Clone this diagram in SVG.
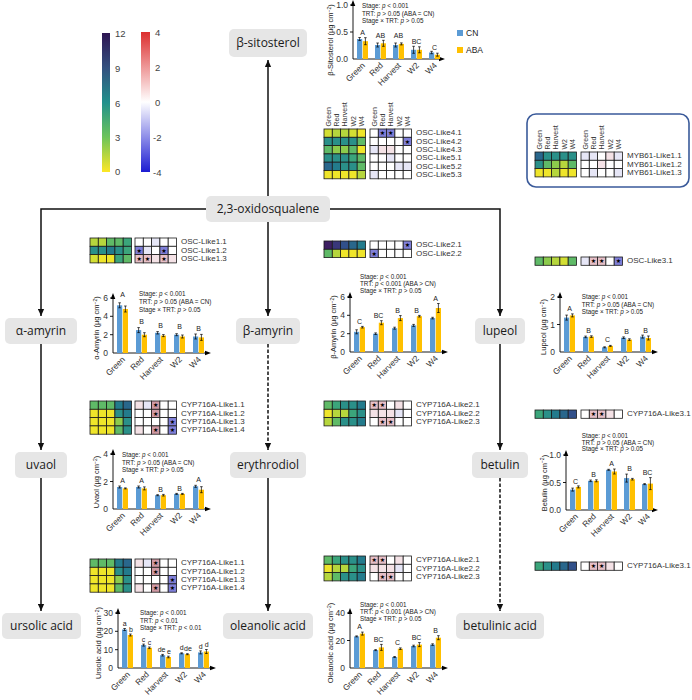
<svg xmlns="http://www.w3.org/2000/svg" width="692" height="700" viewBox="0 0 692 700">
<style>
text{font-family:"Liberation Sans",Arial,sans-serif;fill:#222}
.node rect{fill:#e6e6e6}
.node text{font-family:"Open Sans","Liberation Sans",sans-serif;font-size:12px;text-anchor:middle;fill:#1a1a1a}
.conn path{stroke:#111;stroke-width:1.5;fill:none}
.conn .dash{stroke-dasharray:3.5 2}
.ax{stroke:#000;stroke-width:0.9;fill:none}
.cn{fill:#5b9bd5}
.aba{fill:#ffc000}
.eb{stroke:#000;stroke-width:0.7;fill:none}
.st{font-size:6.3px}
.tk{font-size:8.5px;text-anchor:end;fill:#333}
.yl{font-size:7.5px;text-anchor:middle}
.xl{font-size:8.3px;text-anchor:end;fill:#333}
.lt{font-size:7px;text-anchor:middle}
.hl{font-size:8px;fill:#333}
.cl{font-size:7px;fill:#333}
.cb{font-size:9.5px;fill:#444}
.hm rect{stroke:#1a1a1a;stroke-width:0.8;width:8.3px;height:8.3px}
.sr{font-family:"DejaVu Sans",sans-serif;font-size:6px;text-anchor:middle;fill:#000}
.y1{fill:#efe52a}.y2{fill:#d3df33}.y3{fill:#b6d63d}.g1{fill:#8ccb4c}.g2{fill:#5fba67}.g3{fill:#3ba57b}
.t1{fill:#2a9089}.t2{fill:#237b8c}.t3{fill:#29678c}.b1{fill:#31508a}.b2{fill:#39377a}.p1{fill:#3d1f62}
.w{fill:#fff}.lp{fill:#f4e2e6}.pk{fill:#e6bfc7}.rd{fill:#d09aa4}.ll{fill:#e6e6f6}.lv{fill:#cfcff0}.bl{fill:#7f7fd8}
</style>
<defs>
<linearGradient id="vir" x1="0" y1="1" x2="0" y2="0">
<stop offset="0" stop-color="#fde725"/><stop offset="0.25" stop-color="#6cc45a"/><stop offset="0.5" stop-color="#21918c"/><stop offset="0.75" stop-color="#33507f"/><stop offset="1" stop-color="#2e1552"/>
</linearGradient>
<linearGradient id="rb" x1="0" y1="1" x2="0" y2="0">
<stop offset="0" stop-color="#1c1cd2"/><stop offset="0.5" stop-color="#ffffff"/><stop offset="1" stop-color="#dc2f2f"/>
</linearGradient>
<marker id="ar" viewBox="0 0 10 10" refX="10" refY="5" markerWidth="7" markerHeight="7" markerUnits="userSpaceOnUse" orient="auto"><path d="M0,0.5L10,5L0,9.5Z" fill="#111"/></marker>
</defs>

<!-- colour bars -->
<g id="colorbars">
<rect x="102" y="33" width="8" height="139" fill="url(#vir)"/>
<text class="cb" x="115" y="36.5">12</text><text class="cb" x="115" y="71.5">9</text><text class="cb" x="115" y="106.5">6</text><text class="cb" x="115" y="141">3</text><text class="cb" x="115" y="175">0</text>
<rect x="141" y="32" width="9" height="140" fill="url(#rb)"/>
<text class="cb" x="155" y="35.5">4</text><text class="cb" x="155" y="70.5">2</text><text class="cb" x="155" y="105.5">0</text><text class="cb" x="153" y="141">-2</text><text class="cb" x="153" y="175.5">-4</text>
</g>

<!-- connectors -->
<g id="connectors" class="conn">
<path d="M268,196V60" marker-end="url(#ar)"/>
<path d="M207,209H41V316" marker-end="url(#ar)"/>
<path d="M329,209H500V316" marker-end="url(#ar)"/>
<path d="M268,222V316" marker-end="url(#ar)"/>
<path d="M41,344V450" marker-end="url(#ar)"/>
<path d="M41,478V611" marker-end="url(#ar)"/>
<path class="dash" d="M268,344V450" marker-end="url(#ar)"/>
<path d="M268,478V611" marker-end="url(#ar)"/>
<path d="M500,344V450" marker-end="url(#ar)"/>
<path class="dash" d="M500,478V611" marker-end="url(#ar)"/>
</g>

<!-- nodes -->
<g id="n-sitosterol" class="node"><rect x="229" y="29" width="78" height="28" rx="5"/><text x="268" y="47">β-sitosterol</text></g>
<g id="n-oxidosqualene" class="node"><rect x="206" y="196" width="124" height="26" rx="5"/><text x="268" y="213.3">2,3-oxidosqualene</text></g>
<g id="n-aamyrin" class="node"><rect x="5" y="318" width="72" height="26" rx="5"/><text x="41" y="335.3">α-amyrin</text></g>
<g id="n-bamyrin" class="node"><rect x="236" y="318" width="64" height="26" rx="5"/><text x="268" y="335.3">β-amyrin</text></g>
<g id="n-lupeol" class="node"><rect x="475" y="318" width="50" height="26" rx="5"/><text x="500" y="335.3">lupeol</text></g>
<g id="n-uvaol" class="node"><rect x="15" y="452" width="52" height="26" rx="5"/><text x="41" y="469.3">uvaol</text></g>
<g id="n-erythrodiol" class="node"><rect x="230" y="452" width="76" height="26" rx="5"/><text x="268" y="469.3">erythrodiol</text></g>
<g id="n-betulin" class="node"><rect x="472" y="452" width="56" height="26" rx="5"/><text x="500" y="469.3">betulin</text></g>
<g id="n-ursolic" class="node"><rect x="2" y="613" width="79" height="26" rx="5"/><text x="41.5" y="630.3">ursolic acid</text></g>
<g id="n-oleanolic" class="node"><rect x="223" y="613" width="90" height="26" rx="5"/><text x="268" y="630.3">oleanolic acid</text></g>
<g id="n-betulinic" class="node"><rect x="456" y="613" width="88" height="26" rx="5"/><text x="500" y="630.3">betulinic acid</text></g>

<!-- heatmap OSC-Like4/5 -->
<g id="hm-osc45">
<g class="hm" transform="translate(324,129)">
<rect x="0" y="0" class="y2"/><rect x="8.3" y="0" class="y3"/><rect x="16.6" y="0" class="y3"/><rect x="24.9" y="0" class="y2"/><rect x="33.2" y="0" class="y1"/>
<rect x="0" y="8.3" class="t1"/><rect x="8.3" y="8.3" class="t1"/><rect x="16.6" y="8.3" class="t1"/><rect x="24.9" y="8.3" class="t1"/><rect x="33.2" y="8.3" class="g2"/>
<rect x="0" y="16.6" class="g2"/><rect x="8.3" y="16.6" class="g1"/><rect x="16.6" y="16.6" class="g1"/><rect x="24.9" y="16.6" class="g2"/><rect x="33.2" y="16.6" class="y1"/>
<rect x="0" y="24.9" class="t1"/><rect x="8.3" y="24.9" class="t1"/><rect x="16.6" y="24.9" class="t1"/><rect x="24.9" y="24.9" class="g3"/><rect x="33.2" y="24.9" class="g2"/>
<rect x="0" y="33.2" class="t3"/><rect x="8.3" y="33.2" class="t2"/><rect x="16.6" y="33.2" class="t1"/><rect x="24.9" y="33.2" class="t1"/><rect x="33.2" y="33.2" class="g2"/>
<rect x="0" y="41.5" class="y1"/><rect x="8.3" y="41.5" class="y1"/><rect x="16.6" y="41.5" class="y1"/><rect x="24.9" y="41.5" class="y1"/><rect x="33.2" y="41.5" class="y3"/>
</g>
<g class="hm" transform="translate(370,129)">
<rect x="0" y="0" class="w"/><rect x="8.3" y="0" class="bl"/><rect x="16.6" y="0" class="bl"/><rect x="24.9" y="0" class="w"/><rect x="33.2" y="0" class="w"/>
<rect x="0" y="8.3" class="w"/><rect x="8.3" y="8.3" class="w"/><rect x="16.6" y="8.3" class="w"/><rect x="24.9" y="8.3" class="w"/><rect x="33.2" y="8.3" class="bl"/>
<rect x="0" y="16.6" class="ll"/><rect x="8.3" y="16.6" class="lp"/><rect x="16.6" y="16.6" class="lp"/><rect x="24.9" y="16.6" class="w"/><rect x="33.2" y="16.6" class="w"/>
<rect x="0" y="24.9" class="w"/><rect x="8.3" y="24.9" class="w"/><rect x="16.6" y="24.9" class="ll"/><rect x="24.9" y="24.9" class="w"/><rect x="33.2" y="24.9" class="w"/>
<rect x="0" y="33.2" class="w"/><rect x="8.3" y="33.2" class="w"/><rect x="16.6" y="33.2" class="w"/><rect x="24.9" y="33.2" class="ll"/><rect x="33.2" y="33.2" class="ll"/>
<rect x="0" y="41.5" class="ll"/><rect x="8.3" y="41.5" class="w"/><rect x="16.6" y="41.5" class="w"/><rect x="24.9" y="41.5" class="w"/><rect x="33.2" y="41.5" class="w"/>
<text class="sr" x="12.45" y="6.4">★</text><text class="sr" x="20.75" y="6.4">★</text><text class="sr" x="37.35" y="14.7">★</text>
</g>
<text class="cl" transform="translate(330.6,126.5) rotate(-90)">Green</text><text class="cl" transform="translate(338.9,126.5) rotate(-90)">Red</text><text class="cl" transform="translate(347.2,126.5) rotate(-90)">Harvest</text><text class="cl" transform="translate(355.5,126.5) rotate(-90)">W2</text><text class="cl" transform="translate(363.8,126.5) rotate(-90)">W4</text>
<text class="cl" transform="translate(376.6,126.5) rotate(-90)">Green</text><text class="cl" transform="translate(384.9,126.5) rotate(-90)">Red</text><text class="cl" transform="translate(393.2,126.5) rotate(-90)">Harvest</text><text class="cl" transform="translate(401.5,126.5) rotate(-90)">W2</text><text class="cl" transform="translate(409.8,126.5) rotate(-90)">W4</text>
<text class="hl" x="416" y="135.3">OSC-Like4.1</text><text class="hl" x="416" y="143.6">OSC-Like4.2</text><text class="hl" x="416" y="151.9">OSC-Like4.3</text><text class="hl" x="416" y="160.2">OSC-Like5.1</text><text class="hl" x="416" y="168.5">OSC-Like5.2</text><text class="hl" x="416" y="176.8">OSC-Like5.3</text>
</g>

<!-- MYB61 box -->
<g id="hm-myb61">
<rect x="527" y="114" width="162" height="73" rx="9" fill="none" stroke="#3a5a9a" stroke-width="1.6"/>
<g class="hm" transform="translate(535,152)">
<rect x="0" y="0" class="t3"/><rect x="8.3" y="0" class="t1"/><rect x="16.6" y="0" class="t1"/><rect x="24.9" y="0" class="t1"/><rect x="33.2" y="0" class="t1"/>
<rect x="0" y="8.3" class="t1"/><rect x="8.3" y="8.3" class="g2"/><rect x="16.6" y="8.3" class="g1"/><rect x="24.9" y="8.3" class="y3"/><rect x="33.2" y="8.3" class="g2"/>
<rect x="0" y="16.6" class="y1"/><rect x="8.3" y="16.6" class="y1"/><rect x="16.6" y="16.6" class="y3"/><rect x="24.9" y="16.6" class="y1"/><rect x="33.2" y="16.6" class="y1"/>
</g>
<g class="hm" transform="translate(581,152)">
<rect x="0" y="0" class="ll"/><rect x="8.3" y="0" class="ll"/><rect x="16.6" y="0" class="w"/><rect x="24.9" y="0" class="lp"/><rect x="33.2" y="0" class="ll"/>
<rect x="0" y="8.3" class="w"/><rect x="8.3" y="8.3" class="w"/><rect x="16.6" y="8.3" class="lp"/><rect x="24.9" y="8.3" class="w"/><rect x="33.2" y="8.3" class="w"/>
<rect x="0" y="16.6" class="w"/><rect x="8.3" y="16.6" class="ll"/><rect x="16.6" y="16.6" class="w"/><rect x="24.9" y="16.6" class="w"/><rect x="33.2" y="16.6" class="ll"/>
</g>
<text class="cl" transform="translate(541.6,149.5) rotate(-90)">Green</text><text class="cl" transform="translate(549.9,149.5) rotate(-90)">Red</text><text class="cl" transform="translate(558.2,149.5) rotate(-90)">Harvest</text><text class="cl" transform="translate(566.5,149.5) rotate(-90)">W2</text><text class="cl" transform="translate(574.8,149.5) rotate(-90)">W4</text>
<text class="cl" transform="translate(587.6,149.5) rotate(-90)">Green</text><text class="cl" transform="translate(595.9,149.5) rotate(-90)">Red</text><text class="cl" transform="translate(604.2,149.5) rotate(-90)">Harvest</text><text class="cl" transform="translate(612.5,149.5) rotate(-90)">W2</text><text class="cl" transform="translate(620.8,149.5) rotate(-90)">W4</text>
<text class="hl" x="627" y="158.3">MYB61-Like1.1</text><text class="hl" x="627" y="166.6">MYB61-Like1.2</text><text class="hl" x="627" y="174.9">MYB61-Like1.3</text>
</g>

<!-- OSC-Like1 -->
<g id="hm-osc1">
<g class="hm" transform="translate(90,238)">
<rect x="0" y="0" class="y3"/><rect x="8.3" y="0" class="y3"/><rect x="16.6" y="0" class="g2"/><rect x="24.9" y="0" class="g2"/><rect x="33.2" y="0" class="g3"/>
<rect x="0" y="8.3" class="t1"/><rect x="8.3" y="8.3" class="t1"/><rect x="16.6" y="8.3" class="t2"/><rect x="24.9" y="8.3" class="t1"/><rect x="33.2" y="8.3" class="g3"/>
<rect x="0" y="16.6" class="y2"/><rect x="8.3" y="16.6" class="y1"/><rect x="16.6" y="16.6" class="y1"/><rect x="24.9" y="16.6" class="g3"/><rect x="33.2" y="16.6" class="g2"/>
</g>
<g class="hm" transform="translate(135,238)">
<rect x="0" y="0" class="w"/><rect x="8.3" y="0" class="w"/><rect x="16.6" y="0" class="ll"/><rect x="24.9" y="0" class="w"/><rect x="33.2" y="0" class="w"/>
<rect x="0" y="8.3" class="bl"/><rect x="8.3" y="8.3" class="ll"/><rect x="16.6" y="8.3" class="w"/><rect x="24.9" y="8.3" class="bl"/><rect x="33.2" y="8.3" class="w"/>
<rect x="0" y="16.6" class="pk"/><rect x="8.3" y="16.6" class="pk"/><rect x="16.6" y="16.6" class="lp"/><rect x="24.9" y="16.6" class="pk"/><rect x="33.2" y="16.6" class="lp"/>
<text class="sr" x="4.15" y="14.7">★</text><text class="sr" x="29.05" y="14.7">★</text><text class="sr" x="4.15" y="23">★</text><text class="sr" x="12.45" y="23">★</text><text class="sr" x="29.05" y="23">★</text>
</g>
<text class="hl" x="181" y="244.3">OSC-Like1.1</text><text class="hl" x="181" y="252.6">OSC-Like1.2</text><text class="hl" x="181" y="260.9">OSC-Like1.3</text>
</g>

<!-- OSC-Like2 -->
<g id="hm-osc2">
<g class="hm" transform="translate(324,241)">
<rect x="0" y="0" class="p1"/><rect x="8.3" y="0" class="b2"/><rect x="16.6" y="0" class="b1"/><rect x="24.9" y="0" class="t3"/><rect x="33.2" y="0" class="t2"/>
<rect x="0" y="8.3" class="g2"/><rect x="8.3" y="8.3" class="y3"/><rect x="16.6" y="8.3" class="y1"/><rect x="24.9" y="8.3" class="y1"/><rect x="33.2" y="8.3" class="y1"/>
</g>
<g class="hm" transform="translate(370,241)">
<rect x="0" y="0" class="w"/><rect x="8.3" y="0" class="w"/><rect x="16.6" y="0" class="w"/><rect x="24.9" y="0" class="w"/><rect x="33.2" y="0" class="bl"/>
<rect x="0" y="8.3" class="bl"/><rect x="8.3" y="8.3" class="w"/><rect x="16.6" y="8.3" class="w"/><rect x="24.9" y="8.3" class="w"/><rect x="33.2" y="8.3" class="w"/>
<text class="sr" x="37.35" y="6.4">★</text><text class="sr" x="4.15" y="14.7">★</text>
</g>
<text class="hl" x="416" y="247.3">OSC-Like2.1</text><text class="hl" x="416" y="255.6">OSC-Like2.2</text>
</g>

<!-- OSC-Like3 -->
<g id="hm-osc3">
<g class="hm" transform="translate(535,257)">
<rect x="0" y="0" class="g2"/><rect x="8.3" y="0" class="g1"/><rect x="16.6" y="0" class="y3"/><rect x="24.9" y="0" class="y2"/><rect x="33.2" y="0" class="g2"/>
</g>
<g class="hm" transform="translate(581,257)">
<rect x="0" y="0" class="ll"/><rect x="8.3" y="0" class="pk"/><rect x="16.6" y="0" class="pk"/><rect x="24.9" y="0" class="w"/><rect x="33.2" y="0" class="bl"/>
<text class="sr" x="12.45" y="6.4">★</text><text class="sr" x="20.75" y="6.4">★</text><text class="sr" x="37.35" y="6.4">★</text>
</g>
<text class="hl" x="627" y="263.3">OSC-Like3.1</text>
</g>

<!-- CYP716A-Like1 upper -->
<g id="hm-cyp1a">
<g class="hm" transform="translate(90,401)">
<rect x="0" y="0" class="g2"/><rect x="8.3" y="0" class="g2"/><rect x="16.6" y="0" class="g2"/><rect x="24.9" y="0" class="t2"/><rect x="33.2" y="0" class="t3"/>
<rect x="0" y="8.3" class="y1"/><rect x="8.3" y="8.3" class="y1"/><rect x="16.6" y="8.3" class="y1"/><rect x="24.9" y="8.3" class="t1"/><rect x="33.2" y="8.3" class="t2"/>
<rect x="0" y="16.6" class="y1"/><rect x="8.3" y="16.6" class="y1"/><rect x="16.6" y="16.6" class="y1"/><rect x="24.9" y="16.6" class="g1"/><rect x="33.2" y="16.6" class="t1"/>
<rect x="0" y="24.9" class="y1"/><rect x="8.3" y="24.9" class="y1"/><rect x="16.6" y="24.9" class="y1"/><rect x="24.9" y="24.9" class="g2"/><rect x="33.2" y="24.9" class="t1"/>
</g>
<g class="hm" transform="translate(135,401)">
<rect x="0" y="0" class="lp"/><rect x="8.3" y="0" class="ll"/><rect x="16.6" y="0" class="rd"/><rect x="24.9" y="0" class="w"/><rect x="33.2" y="0" class="w"/>
<rect x="0" y="8.3" class="w"/><rect x="8.3" y="8.3" class="w"/><rect x="16.6" y="8.3" class="rd"/><rect x="24.9" y="8.3" class="w"/><rect x="33.2" y="8.3" class="w"/>
<rect x="0" y="16.6" class="w"/><rect x="8.3" y="16.6" class="w"/><rect x="16.6" y="16.6" class="w"/><rect x="24.9" y="16.6" class="w"/><rect x="33.2" y="16.6" class="bl"/>
<rect x="0" y="24.9" class="lp"/><rect x="8.3" y="24.9" class="w"/><rect x="16.6" y="24.9" class="rd"/><rect x="24.9" y="24.9" class="w"/><rect x="33.2" y="24.9" class="bl"/>
<text class="sr" x="20.75" y="6.4">★</text><text class="sr" x="20.75" y="14.7">★</text><text class="sr" x="37.35" y="23">★</text><text class="sr" x="20.75" y="31.3">★</text><text class="sr" x="37.35" y="31.3">★</text>
</g>
<text class="hl" x="181" y="407.3">CYP716A-Like1.1</text><text class="hl" x="181" y="415.6">CYP716A-Like1.2</text><text class="hl" x="181" y="423.9">CYP716A-Like1.3</text><text class="hl" x="181" y="432.2">CYP716A-Like1.4</text>
</g>

<!-- CYP716A-Like2 upper -->
<g id="hm-cyp2a">
<g class="hm" transform="translate(324,401)">
<rect x="0" y="0" class="g2"/><rect x="8.3" y="0" class="g3"/><rect x="16.6" y="0" class="t1"/><rect x="24.9" y="0" class="t1"/><rect x="33.2" y="0" class="t2"/>
<rect x="0" y="8.3" class="y1"/><rect x="8.3" y="8.3" class="y3"/><rect x="16.6" y="8.3" class="y3"/><rect x="24.9" y="8.3" class="g3"/><rect x="33.2" y="8.3" class="t1"/>
<rect x="0" y="16.6" class="y3"/><rect x="8.3" y="16.6" class="g2"/><rect x="16.6" y="16.6" class="t1"/><rect x="24.9" y="16.6" class="t1"/><rect x="33.2" y="16.6" class="t2"/>
</g>
<g class="hm" transform="translate(370,401)">
<rect x="0" y="0" class="pk"/><rect x="8.3" y="0" class="pk"/><rect x="16.6" y="0" class="w"/><rect x="24.9" y="0" class="lp"/><rect x="33.2" y="0" class="w"/>
<rect x="0" y="8.3" class="lp"/><rect x="8.3" y="8.3" class="lp"/><rect x="16.6" y="8.3" class="lp"/><rect x="24.9" y="8.3" class="ll"/><rect x="33.2" y="8.3" class="w"/>
<rect x="0" y="16.6" class="w"/><rect x="8.3" y="16.6" class="pk"/><rect x="16.6" y="16.6" class="pk"/><rect x="24.9" y="16.6" class="w"/><rect x="33.2" y="16.6" class="w"/>
<text class="sr" x="4.15" y="6.4">★</text><text class="sr" x="12.45" y="6.4">★</text><text class="sr" x="12.45" y="23">★</text><text class="sr" x="20.75" y="23">★</text>
</g>
<text class="hl" x="416" y="407.3">CYP716A-Like2.1</text><text class="hl" x="416" y="415.6">CYP716A-Like2.2</text><text class="hl" x="416" y="423.9">CYP716A-Like2.3</text>
</g>

<!-- CYP716A-Like3 upper -->
<g id="hm-cyp3a">
<g class="hm" transform="translate(535,410)">
<rect x="0" y="0" class="g3"/><rect x="8.3" y="0" class="t1"/><rect x="16.6" y="0" class="t2"/><rect x="24.9" y="0" class="t3"/><rect x="33.2" y="0" class="b1"/>
</g>
<g class="hm" transform="translate(581,410)">
<rect x="0" y="0" class="w"/><rect x="8.3" y="0" class="pk"/><rect x="16.6" y="0" class="pk"/><rect x="24.9" y="0" class="lp"/><rect x="33.2" y="0" class="w"/>
<text class="sr" x="12.45" y="6.4">★</text><text class="sr" x="20.75" y="6.4">★</text>
</g>
<text class="hl" x="627" y="416.3">CYP716A-Like3.1</text>
</g>

<!-- CYP716A-Like1 lower -->
<g id="hm-cyp1b">
<g class="hm" transform="translate(90,559)">
<rect x="0" y="0" class="g2"/><rect x="8.3" y="0" class="g2"/><rect x="16.6" y="0" class="g2"/><rect x="24.9" y="0" class="t2"/><rect x="33.2" y="0" class="t3"/>
<rect x="0" y="8.3" class="y1"/><rect x="8.3" y="8.3" class="y1"/><rect x="16.6" y="8.3" class="y1"/><rect x="24.9" y="8.3" class="t1"/><rect x="33.2" y="8.3" class="t2"/>
<rect x="0" y="16.6" class="y1"/><rect x="8.3" y="16.6" class="y1"/><rect x="16.6" y="16.6" class="y1"/><rect x="24.9" y="16.6" class="g1"/><rect x="33.2" y="16.6" class="t1"/>
<rect x="0" y="24.9" class="y1"/><rect x="8.3" y="24.9" class="y1"/><rect x="16.6" y="24.9" class="y1"/><rect x="24.9" y="24.9" class="g2"/><rect x="33.2" y="24.9" class="t1"/>
</g>
<g class="hm" transform="translate(135,559)">
<rect x="0" y="0" class="lp"/><rect x="8.3" y="0" class="ll"/><rect x="16.6" y="0" class="rd"/><rect x="24.9" y="0" class="w"/><rect x="33.2" y="0" class="w"/>
<rect x="0" y="8.3" class="w"/><rect x="8.3" y="8.3" class="w"/><rect x="16.6" y="8.3" class="rd"/><rect x="24.9" y="8.3" class="w"/><rect x="33.2" y="8.3" class="w"/>
<rect x="0" y="16.6" class="w"/><rect x="8.3" y="16.6" class="w"/><rect x="16.6" y="16.6" class="w"/><rect x="24.9" y="16.6" class="w"/><rect x="33.2" y="16.6" class="bl"/>
<rect x="0" y="24.9" class="lp"/><rect x="8.3" y="24.9" class="w"/><rect x="16.6" y="24.9" class="rd"/><rect x="24.9" y="24.9" class="w"/><rect x="33.2" y="24.9" class="bl"/>
<text class="sr" x="20.75" y="6.4">★</text><text class="sr" x="20.75" y="14.7">★</text><text class="sr" x="37.35" y="23">★</text><text class="sr" x="20.75" y="31.3">★</text><text class="sr" x="37.35" y="31.3">★</text>
</g>
<text class="hl" x="181" y="565.3">CYP716A-Like1.1</text><text class="hl" x="181" y="573.6">CYP716A-Like1.2</text><text class="hl" x="181" y="581.9">CYP716A-Like1.3</text><text class="hl" x="181" y="590.2">CYP716A-Like1.4</text>
</g>

<!-- CYP716A-Like2 lower -->
<g id="hm-cyp2b">
<g class="hm" transform="translate(324,556)">
<rect x="0" y="0" class="g2"/><rect x="8.3" y="0" class="g3"/><rect x="16.6" y="0" class="t1"/><rect x="24.9" y="0" class="t1"/><rect x="33.2" y="0" class="t2"/>
<rect x="0" y="8.3" class="y1"/><rect x="8.3" y="8.3" class="y3"/><rect x="16.6" y="8.3" class="y3"/><rect x="24.9" y="8.3" class="g3"/><rect x="33.2" y="8.3" class="t1"/>
<rect x="0" y="16.6" class="y3"/><rect x="8.3" y="16.6" class="g2"/><rect x="16.6" y="16.6" class="t1"/><rect x="24.9" y="16.6" class="t1"/><rect x="33.2" y="16.6" class="t2"/>
</g>
<g class="hm" transform="translate(370,556)">
<rect x="0" y="0" class="pk"/><rect x="8.3" y="0" class="pk"/><rect x="16.6" y="0" class="w"/><rect x="24.9" y="0" class="lp"/><rect x="33.2" y="0" class="w"/>
<rect x="0" y="8.3" class="lp"/><rect x="8.3" y="8.3" class="lp"/><rect x="16.6" y="8.3" class="lp"/><rect x="24.9" y="8.3" class="ll"/><rect x="33.2" y="8.3" class="w"/>
<rect x="0" y="16.6" class="w"/><rect x="8.3" y="16.6" class="pk"/><rect x="16.6" y="16.6" class="pk"/><rect x="24.9" y="16.6" class="w"/><rect x="33.2" y="16.6" class="w"/>
<text class="sr" x="4.15" y="6.4">★</text><text class="sr" x="12.45" y="6.4">★</text><text class="sr" x="12.45" y="23">★</text><text class="sr" x="20.75" y="23">★</text>
</g>
<text class="hl" x="416" y="562.3">CYP716A-Like2.1</text><text class="hl" x="416" y="570.6">CYP716A-Like2.2</text><text class="hl" x="416" y="578.9">CYP716A-Like2.3</text>
</g>

<!-- CYP716A-Like3 lower -->
<g id="hm-cyp3b">
<g class="hm" transform="translate(535,562)">
<rect x="0" y="0" class="g3"/><rect x="8.3" y="0" class="t1"/><rect x="16.6" y="0" class="t2"/><rect x="24.9" y="0" class="t3"/><rect x="33.2" y="0" class="b1"/>
</g>
<g class="hm" transform="translate(581,562)">
<rect x="0" y="0" class="w"/><rect x="8.3" y="0" class="pk"/><rect x="16.6" y="0" class="pk"/><rect x="24.9" y="0" class="lp"/><rect x="33.2" y="0" class="w"/>
<text class="sr" x="12.45" y="6.4">★</text><text class="sr" x="20.75" y="6.4">★</text>
</g>
<text class="hl" x="627" y="568.3">CYP716A-Like3.1</text>
</g>

<!-- chart: beta-sitosterol -->
<g id="chart-sitosterol" transform="translate(353,59)">
<path class="ax" d="M0,0V-54M0,0H88M-3,-27H0M-3,-54H0"/>
<path d="M0,-59L-2.3,-53H2.3Z M92,0L86,-2.3V2.3Z"/>
<text class="tk" x="-5" y="3">0.0</text><text class="tk" x="-5" y="-24">0.5</text><text class="tk" x="-5" y="-51">1.0</text>
<rect class="cn" x="4" y="-20" width="5.2" height="20"/><rect class="cn" x="22" y="-14" width="5.2" height="14"/><rect class="cn" x="40" y="-14" width="5.2" height="14"/><rect class="cn" x="58" y="-9.2" width="5.2" height="9.2"/><rect class="cn" x="76" y="-6.5" width="5.2" height="6.5"/>
<rect class="aba" x="9.8" y="-17.8" width="5.2" height="17.8"/><rect class="aba" x="27.8" y="-15.7" width="5.2" height="15.7"/><rect class="aba" x="45.8" y="-15.1" width="5.2" height="15.1"/><rect class="aba" x="63.8" y="-9.2" width="5.2" height="9.2"/><rect class="aba" x="81.8" y="-4.3" width="5.2" height="4.3"/>
<path class="eb" d="M5.3,-21.5H7.9M6.6,-21.5V-18.5M5.3,-18.5H7.9M23.3,-16H25.9M24.6,-16V-12M23.3,-12H25.9M41.3,-16H43.9M42.6,-16V-12M41.3,-12H43.9M59.3,-12.7H61.9M60.6,-12.7V-5.7M59.3,-5.7H61.9M77.3,-7.7H79.9M78.6,-7.7V-5.3M77.3,-5.3H79.9M11.1,-21.3H13.7M12.4,-21.3V-14.3M11.1,-14.3H13.7M29.1,-18.7H31.7M30.4,-18.7V-12.7M29.1,-12.7H31.7M47.1,-16.1H49.7M48.4,-16.1V-14.1M47.1,-14.1H49.7M65.1,-12.2H67.7M66.4,-12.2V-6.2M65.1,-6.2H67.7M83.1,-5.8H85.7M84.4,-5.8V-2.8M83.1,-2.8H85.7"/>
<text class="lt" x="9.5" y="-24.5">A</text><text class="lt" x="27.5" y="-21.5">AB</text><text class="lt" x="45.5" y="-21.5">AB</text><text class="lt" x="63.5" y="-15">BC</text><text class="lt" x="81.5" y="-9.5">C</text>
<text class="xl" transform="translate(12.5,7) rotate(-45)">Green</text><text class="xl" transform="translate(30.5,7) rotate(-45)">Red</text><text class="xl" transform="translate(48.5,7) rotate(-45)">Harvest</text><text class="xl" transform="translate(66.5,7) rotate(-45)">W2</text><text class="xl" transform="translate(84.5,7) rotate(-45)">W4</text>
<text class="yl" transform="translate(-20,-19) rotate(-90)">β-Sitosterol (µg cm<tspan dy="-2.5" font-size="5">−2</tspan><tspan dy="2.5">)</tspan></text>
<text class="st" x="9" y="-50.7">Stage: <tspan font-style="italic">p</tspan> &lt; 0.001</text>
<text class="st" x="9" y="-43.4">TRT: <tspan font-style="italic">p</tspan> &gt; 0.05 (ABA = CN)</text>
<text class="st" x="9" y="-36">Stage × TRT: <tspan font-style="italic">p</tspan> &gt; 0.05</text>
</g>
<g id="legend">
<rect x="457" y="30" width="6" height="6" class="cn"/><text x="466" y="36" font-size="8.5">CN</text>
<rect x="457" y="47" width="6" height="6" class="aba"/><text x="466" y="53" font-size="8.5">ABA</text>
</g>

<!-- chart: alpha-amyrin -->
<g id="chart-aamyrin" transform="translate(113,353)">
<path class="ax" d="M0,0V-55M0,0H94M-3,-18.3H0M-3,-36.7H0M-3,-55H0"/>
<path d="M0,-60L-2.3,-54H2.3Z M98,0L92,-2.3V2.3Z"/>
<text class="tk" x="-5" y="3">0</text><text class="tk" x="-5" y="-15.3">2</text><text class="tk" x="-5" y="-33.7">4</text><text class="tk" x="-5" y="-52">6</text>
<rect class="cn" x="4" y="-47.7" width="5.2" height="47.7"/><rect class="cn" x="23" y="-22.9" width="5.2" height="22.9"/><rect class="cn" x="42" y="-20.2" width="5.2" height="20.2"/><rect class="cn" x="61" y="-18.3" width="5.2" height="18.3"/><rect class="cn" x="80" y="-16.5" width="5.2" height="16.5"/>
<rect class="aba" x="9.8" y="-44" width="5.2" height="44"/><rect class="aba" x="28.8" y="-18.3" width="5.2" height="18.3"/><rect class="aba" x="47.8" y="-17.4" width="5.2" height="17.4"/><rect class="aba" x="66.8" y="-16.5" width="5.2" height="16.5"/><rect class="aba" x="85.8" y="-15.6" width="5.2" height="15.6"/>
<path class="eb" d="M5.3,-50.2H7.9M6.6,-50.2V-45.2M5.3,-45.2H7.9M24.3,-25.4H26.9M25.6,-25.4V-20.4M24.3,-20.4H26.9M43.3,-21.4H45.9M44.6,-21.4V-19M43.3,-19H45.9M62.3,-19.3H64.9M63.6,-19.3V-17.3M62.3,-17.3H64.9M81.3,-19H83.9M82.6,-19V-14M81.3,-14H83.9M11.1,-47H13.7M12.4,-47V-41M11.1,-41H13.7M30.1,-20.3H32.7M31.4,-20.3V-16.3M30.1,-16.3H32.7M49.1,-18.4H51.7M50.4,-18.4V-16.4M49.1,-16.4H51.7M68.1,-18H70.7M69.4,-18V-15M68.1,-15H70.7M87.1,-18.6H89.7M88.4,-18.6V-12.6M87.1,-12.6H89.7"/>
<text class="lt" x="9.5" y="-56">A</text><text class="lt" x="28.5" y="-29.5">B</text><text class="lt" x="47.5" y="-25.5">B</text><text class="lt" x="66.5" y="-24.5">B</text><text class="lt" x="85.5" y="-22.5">B</text>
<text class="xl" transform="translate(12.5,7) rotate(-45)">Green</text><text class="xl" transform="translate(31.5,7) rotate(-45)">Red</text><text class="xl" transform="translate(50.5,7) rotate(-45)">Harvest</text><text class="xl" transform="translate(69.5,7) rotate(-45)">W2</text><text class="xl" transform="translate(88.5,7) rotate(-45)">W4</text>
<text class="yl" transform="translate(-14,-25) rotate(-90)">α-Amyrin (µg cm<tspan dy="-2.5" font-size="5">−2</tspan><tspan dy="2.5">)</tspan></text>
<text class="st" x="26" y="-57.4">Stage: <tspan font-style="italic">p</tspan> &lt; 0.001</text>
<text class="st" x="26" y="-49">TRT: <tspan font-style="italic">p</tspan> &gt; 0.05 (ABA = CN)</text>
<text class="st" x="26" y="-40.7">Stage × TRT: <tspan font-style="italic">p</tspan> &gt; 0.05</text>
</g>

<!-- chart: beta-amyrin -->
<g id="chart-bamyrin" transform="translate(350,352)">
<path class="ax" d="M0,0V-55M0,0H94M-3,-18.3H0M-3,-36.7H0M-3,-55H0"/>
<path d="M0,-60L-2.3,-54H2.3Z M98,0L92,-2.3V2.3Z"/>
<text class="tk" x="-5" y="3">0</text><text class="tk" x="-5" y="-15.3">2</text><text class="tk" x="-5" y="-33.7">4</text><text class="tk" x="-5" y="-52">6</text>
<rect class="cn" x="4" y="-20.2" width="5.2" height="20.2"/><rect class="cn" x="23" y="-18.3" width="5.2" height="18.3"/><rect class="cn" x="42" y="-23.8" width="5.2" height="23.8"/><rect class="cn" x="61" y="-26.6" width="5.2" height="26.6"/><rect class="cn" x="80" y="-33.9" width="5.2" height="33.9"/>
<rect class="aba" x="9.8" y="-24.8" width="5.2" height="24.8"/><rect class="aba" x="28.8" y="-29.3" width="5.2" height="29.3"/><rect class="aba" x="47.8" y="-33.9" width="5.2" height="33.9"/><rect class="aba" x="66.8" y="-35.8" width="5.2" height="35.8"/><rect class="aba" x="85.8" y="-44" width="5.2" height="44"/>
<path class="eb" d="M5.3,-22.2H7.9M6.6,-22.2V-18.2M5.3,-18.2H7.9M24.3,-19.1H26.9M25.6,-19.1V-17.5M24.3,-17.5H26.9M43.3,-24.8H45.9M44.6,-24.8V-22.8M43.3,-22.8H45.9M62.3,-27.6H64.9M63.6,-27.6V-25.6M62.3,-25.6H64.9M81.3,-34.7H83.9M82.6,-34.7V-33.1M81.3,-33.1H83.9M11.1,-25.6H13.7M12.4,-25.6V-24M11.1,-24H13.7M30.1,-31.3H32.7M31.4,-31.3V-27.3M30.1,-27.3H32.7M49.1,-36.4H51.7M50.4,-36.4V-31.4M49.1,-31.4H51.7M68.1,-36.6H70.7M69.4,-36.6V-35M68.1,-35H70.7M87.1,-48.5H89.7M88.4,-48.5V-39.5M87.1,-39.5H89.7"/>
<text class="lt" x="9.5" y="-28">C</text><text class="lt" x="28.5" y="-34">BC</text><text class="lt" x="47.5" y="-39">B</text><text class="lt" x="66.5" y="-39.5">B</text><text class="lt" x="85.5" y="-51">A</text>
<text class="xl" transform="translate(12.5,7) rotate(-45)">Green</text><text class="xl" transform="translate(31.5,7) rotate(-45)">Red</text><text class="xl" transform="translate(50.5,7) rotate(-45)">Harvest</text><text class="xl" transform="translate(69.5,7) rotate(-45)">W2</text><text class="xl" transform="translate(88.5,7) rotate(-45)">W4</text>
<text class="yl" transform="translate(-14,-25) rotate(-90)">β-Amyrin (µg cm<tspan dy="-2.5" font-size="5">−2</tspan><tspan dy="2.5">)</tspan></text>
<text class="st" x="10" y="-73">Stage: <tspan font-style="italic">p</tspan> &lt; 0.001</text>
<text class="st" x="10" y="-66">TRT: <tspan font-style="italic">p</tspan> &lt; 0.001 (ABA &gt; CN)</text>
<text class="st" x="10" y="-59">Stage × TRT: <tspan font-style="italic">p</tspan> &gt; 0.05</text>
</g>

<!-- chart: lupeol -->
<g id="chart-lupeol" transform="translate(560,352)">
<path class="ax" d="M0,0V-55M0,0H94M-3,-27.5H0M-3,-55H0"/>
<path d="M0,-60L-2.3,-54H2.3Z M98,0L92,-2.3V2.3Z"/>
<text class="tk" x="-5" y="3">0</text><text class="tk" x="-5" y="-24.5">1</text><text class="tk" x="-5" y="-52">2</text>
<rect class="cn" x="4" y="-34.4" width="5.2" height="34.4"/><rect class="cn" x="23" y="-15.1" width="5.2" height="15.1"/><rect class="cn" x="42" y="-4.7" width="5.2" height="4.7"/><rect class="cn" x="61" y="-14.3" width="5.2" height="14.3"/><rect class="cn" x="80" y="-15.4" width="5.2" height="15.4"/>
<rect class="aba" x="9.8" y="-36.6" width="5.2" height="36.6"/><rect class="aba" x="28.8" y="-15.4" width="5.2" height="15.4"/><rect class="aba" x="47.8" y="-6.1" width="5.2" height="6.1"/><rect class="aba" x="66.8" y="-12.4" width="5.2" height="12.4"/><rect class="aba" x="85.8" y="-14" width="5.2" height="14"/>
<path class="eb" d="M5.3,-36.9H7.9M6.6,-36.9V-31.9M5.3,-31.9H7.9M24.3,-15.9H26.9M25.6,-15.9V-14.3M24.3,-14.3H26.9M43.3,-5.2H45.9M44.6,-5.2V-4.2M43.3,-4.2H45.9M62.3,-15.1H64.9M63.6,-15.1V-13.5M62.3,-13.5H64.9M81.3,-16.9H83.9M82.6,-16.9V-13.9M81.3,-13.9H83.9M11.1,-38.1H13.7M12.4,-38.1V-35.1M11.1,-35.1H13.7M30.1,-16.2H32.7M31.4,-16.2V-14.6M30.1,-14.6H32.7M49.1,-6.6H51.7M50.4,-6.6V-5.6M49.1,-5.6H51.7M68.1,-13.2H70.7M69.4,-13.2V-11.6M68.1,-11.6H70.7M87.1,-16H89.7M88.4,-16V-12M87.1,-12H89.7"/>
<text class="lt" x="9.5" y="-41">A</text><text class="lt" x="28.5" y="-19">B</text><text class="lt" x="47.5" y="-10">C</text><text class="lt" x="66.5" y="-18.5">B</text><text class="lt" x="85.5" y="-19.5">B</text>
<text class="xl" transform="translate(12.5,7) rotate(-45)">Green</text><text class="xl" transform="translate(31.5,7) rotate(-45)">Red</text><text class="xl" transform="translate(50.5,7) rotate(-45)">Harvest</text><text class="xl" transform="translate(69.5,7) rotate(-45)">W2</text><text class="xl" transform="translate(88.5,7) rotate(-45)">W4</text>
<text class="yl" transform="translate(-14,-25) rotate(-90)">Lupeol (µg cm<tspan dy="-2.5" font-size="5">−2</tspan><tspan dy="2.5">)</tspan></text>
<text class="st" x="21.7" y="-53">Stage: <tspan font-style="italic">p</tspan> &lt; 0.001</text>
<text class="st" x="21.7" y="-45.5">TRT: <tspan font-style="italic">p</tspan> &gt; 0.05 (ABA = CN)</text>
<text class="st" x="21.7" y="-38">Stage × TRT: <tspan font-style="italic">p</tspan> &gt; 0.05</text>
</g>

<!-- chart: uvaol -->
<g id="chart-uvaol" transform="translate(113,509)">
<path class="ax" d="M0,0V-55M0,0H94M-3,-27.5H0M-3,-55H0"/>
<path d="M0,-60L-2.3,-54H2.3Z M98,0L92,-2.3V2.3Z"/>
<text class="tk" x="-5" y="3">0</text><text class="tk" x="-5" y="-24.5">2</text><text class="tk" x="-5" y="-52">4</text>
<rect class="cn" x="4" y="-22" width="5.2" height="22"/><rect class="cn" x="23" y="-22" width="5.2" height="22"/><rect class="cn" x="42" y="-13.8" width="5.2" height="13.8"/><rect class="cn" x="61" y="-15.1" width="5.2" height="15.1"/><rect class="cn" x="80" y="-22.7" width="5.2" height="22.7"/>
<rect class="aba" x="9.8" y="-20.6" width="5.2" height="20.6"/><rect class="aba" x="28.8" y="-20.6" width="5.2" height="20.6"/><rect class="aba" x="47.8" y="-13.8" width="5.2" height="13.8"/><rect class="aba" x="66.8" y="-15.1" width="5.2" height="15.1"/><rect class="aba" x="85.8" y="-19.3" width="5.2" height="19.3"/>
<path class="eb" d="M5.3,-23H7.9M6.6,-23V-21M5.3,-21H7.9M24.3,-23H26.9M25.6,-23V-21M24.3,-21H26.9M43.3,-14.3H45.9M44.6,-14.3V-13.3M43.3,-13.3H45.9M62.3,-15.6H64.9M63.6,-15.6V-14.6M62.3,-14.6H64.9M81.3,-23.7H83.9M82.6,-23.7V-21.7M81.3,-21.7H83.9M11.1,-21.1H13.7M12.4,-21.1V-20.1M11.1,-20.1H13.7M30.1,-22.1H32.7M31.4,-22.1V-19.1M30.1,-19.1H32.7M49.1,-14.6H51.7M50.4,-14.6V-13M49.1,-13H51.7M68.1,-15.6H70.7M69.4,-15.6V-14.6M68.1,-14.6H70.7M87.1,-22.3H89.7M88.4,-22.3V-16.3M87.1,-16.3H89.7"/>
<text class="lt" x="9.5" y="-26.5">A</text><text class="lt" x="28.5" y="-26.5">A</text><text class="lt" x="47.5" y="-17.5">B</text><text class="lt" x="66.5" y="-18.5">B</text><text class="lt" x="85.5" y="-27">A</text>
<text class="xl" transform="translate(12.5,7) rotate(-45)">Green</text><text class="xl" transform="translate(31.5,7) rotate(-45)">Red</text><text class="xl" transform="translate(50.5,7) rotate(-45)">Harvest</text><text class="xl" transform="translate(69.5,7) rotate(-45)">W2</text><text class="xl" transform="translate(88.5,7) rotate(-45)">W4</text>
<text class="yl" transform="translate(-14,-27) rotate(-90)">Uvaol (µg cm<tspan dy="-2.5" font-size="5">−2</tspan><tspan dy="2.5">)</tspan></text>
<text class="st" x="9" y="-52">Stage: <tspan font-style="italic">p</tspan> &lt; 0.001</text>
<text class="st" x="9" y="-44.5">TRT: <tspan font-style="italic">p</tspan> &gt; 0.05 (ABA = CN)</text>
<text class="st" x="9" y="-37">Stage × TRT: <tspan font-style="italic">p</tspan> &gt; 0.05</text>
</g>

<!-- chart: betulin -->
<g id="chart-betulin" transform="translate(566,510)">
<path class="ax" d="M0,0V-55M0,0H88M-3,-27.5H0M-3,-55H0"/>
<path d="M0,-60L-2.3,-54H2.3Z M92,0L86,-2.3V2.3Z"/>
<text class="tk" x="-5" y="3">0.0</text><text class="tk" x="-5" y="-24.5">0.5</text><text class="tk" x="-5" y="-52">1.0</text>
<rect class="cn" x="4" y="-20.4" width="5.2" height="20.4"/><rect class="cn" x="22" y="-29.2" width="5.2" height="29.2"/><rect class="cn" x="40" y="-40.2" width="5.2" height="40.2"/><rect class="cn" x="58" y="-31.9" width="5.2" height="31.9"/><rect class="cn" x="76" y="-25.9" width="5.2" height="25.9"/>
<rect class="aba" x="9.8" y="-23.1" width="5.2" height="23.1"/><rect class="aba" x="27.8" y="-29.2" width="5.2" height="29.2"/><rect class="aba" x="45.8" y="-38.5" width="5.2" height="38.5"/><rect class="aba" x="63.8" y="-30.8" width="5.2" height="30.8"/><rect class="aba" x="81.8" y="-26.4" width="5.2" height="26.4"/>
<path class="eb" d="M5.3,-21.9H7.9M6.6,-21.9V-18.9M5.3,-18.9H7.9M23.3,-30H25.9M24.6,-30V-28.4M23.3,-28.4H25.9M41.3,-40.7H43.9M42.6,-40.7V-39.7M41.3,-39.7H43.9M59.3,-35.9H61.9M60.6,-35.9V-27.9M59.3,-27.9H61.9M77.3,-26.4H79.9M78.6,-26.4V-25.4M77.3,-25.4H79.9M11.1,-24.1H13.7M12.4,-24.1V-22.1M11.1,-22.1H13.7M29.1,-30.2H31.7M30.4,-30.2V-28.2M29.1,-28.2H31.7M47.1,-41H49.7M48.4,-41V-36M47.1,-36H49.7M65.1,-31.6H67.7M66.4,-31.6V-30M65.1,-30H67.7M83.1,-32.4H85.7M84.4,-32.4V-20.4M83.1,-20.4H85.7"/>
<text class="lt" x="9.5" y="-26.5">C</text><text class="lt" x="27.5" y="-33">B</text><text class="lt" x="45.5" y="-44">A</text><text class="lt" x="63.5" y="-39">B</text><text class="lt" x="81.5" y="-35">BC</text>
<text class="xl" transform="translate(12.5,7) rotate(-45)">Green</text><text class="xl" transform="translate(30.5,7) rotate(-45)">Red</text><text class="xl" transform="translate(48.5,7) rotate(-45)">Harvest</text><text class="xl" transform="translate(66.5,7) rotate(-45)">W2</text><text class="xl" transform="translate(84.5,7) rotate(-45)">W4</text>
<text class="yl" transform="translate(-19.5,-27) rotate(-90)">Betulin (µg cm<tspan dy="-2.5" font-size="5">−2</tspan><tspan dy="2.5">)</tspan></text>
<text class="st" x="15.7" y="-72">Stage: <tspan font-style="italic">p</tspan> &lt; 0.001</text>
<text class="st" x="15.7" y="-65.5">TRT: <tspan font-style="italic">p</tspan> &gt; 0.05 (ABA = CN)</text>
<text class="st" x="15.7" y="-59">Stage × TRT: <tspan font-style="italic">p</tspan> &gt; 0.05</text>
</g>

<!-- chart: ursolic acid -->
<g id="chart-ursolic" transform="translate(118,668)">
<path class="ax" d="M0,0V-55M0,0H94M-3,-18.3H0M-3,-36.7H0M-3,-55H0"/>
<path d="M0,-60L-2.3,-54H2.3Z M98,0L92,-2.3V2.3Z"/>
<text class="tk" x="-5" y="3">0</text><text class="tk" x="-5" y="-15.3">10</text><text class="tk" x="-5" y="-33.7">20</text><text class="tk" x="-5" y="-52">30</text>
<rect class="cn" x="4" y="-38.5" width="5.2" height="38.5"/><rect class="cn" x="23" y="-22.9" width="5.2" height="22.9"/><rect class="cn" x="42" y="-12.8" width="5.2" height="12.8"/><rect class="cn" x="61" y="-14.7" width="5.2" height="14.7"/><rect class="cn" x="80" y="-15.6" width="5.2" height="15.6"/>
<rect class="aba" x="9.8" y="-33" width="5.2" height="33"/><rect class="aba" x="28.8" y="-20.2" width="5.2" height="20.2"/><rect class="aba" x="47.8" y="-11" width="5.2" height="11"/><rect class="aba" x="66.8" y="-13.8" width="5.2" height="13.8"/><rect class="aba" x="85.8" y="-16.5" width="5.2" height="16.5"/>
<path class="eb" d="M5.3,-39.5H7.9M6.6,-39.5V-37.5M5.3,-37.5H7.9M24.3,-23.9H26.9M25.6,-23.9V-21.9M24.3,-21.9H26.9M43.3,-13.6H45.9M44.6,-13.6V-12M43.3,-12H45.9M62.3,-15.2H64.9M63.6,-15.2V-14.2M62.3,-14.2H64.9M81.3,-17.1H83.9M82.6,-17.1V-14.1M81.3,-14.1H83.9M11.1,-34H13.7M12.4,-34V-32M11.1,-32H13.7M30.1,-21H32.7M31.4,-21V-19.4M30.1,-19.4H32.7M49.1,-11.8H51.7M50.4,-11.8V-10.2M49.1,-10.2H51.7M68.1,-14.3H70.7M69.4,-14.3V-13.3M68.1,-13.3H70.7M87.1,-18.5H89.7M88.4,-18.5V-14.5M87.1,-14.5H89.7"/>
<text class="lt" x="6.6" y="-42">a</text><text class="lt" x="12.9" y="-36.5">b</text><text class="lt" x="25.6" y="-26">c</text><text class="lt" x="31.6" y="-23.5">c</text><text class="lt" x="43.6" y="-16">de</text><text class="lt" x="51" y="-14">e</text><text class="lt" x="63.6" y="-18">d</text><text class="lt" x="70" y="-17">de</text><text class="lt" x="82.6" y="-19.5">d</text><text class="lt" x="88.8" y="-21">d</text>
<text class="xl" transform="translate(12.5,7) rotate(-45)">Green</text><text class="xl" transform="translate(31.5,7) rotate(-45)">Red</text><text class="xl" transform="translate(50.5,7) rotate(-45)">Harvest</text><text class="xl" transform="translate(69.5,7) rotate(-45)">W2</text><text class="xl" transform="translate(88.5,7) rotate(-45)">W4</text>
<text class="yl" transform="translate(-17,-25) rotate(-90)">Ursolic acid (µg cm<tspan dy="-2.5" font-size="5">−2</tspan><tspan dy="2.5">)</tspan></text>
<text class="st" x="22" y="-53">Stage: <tspan font-style="italic">p</tspan> &lt; 0.001</text>
<text class="st" x="22" y="-45.5">TRT: <tspan font-style="italic">p</tspan> &lt; 0.01</text>
<text class="st" x="22" y="-38">Stage × TRT: <tspan font-style="italic">p</tspan> &lt; 0.01</text>
</g>

<!-- chart: oleanolic acid -->
<g id="chart-oleanolic" transform="translate(350,668)">
<path class="ax" d="M0,0V-55M0,0H94M-3,-27.5H0M-3,-55H0"/>
<path d="M0,-60L-2.3,-54H2.3Z M98,0L92,-2.3V2.3Z"/>
<text class="tk" x="-5" y="3">0</text><text class="tk" x="-5" y="-24.5">20</text><text class="tk" x="-5" y="-52">40</text>
<rect class="cn" x="4" y="-31.6" width="5.2" height="31.6"/><rect class="cn" x="23" y="-17.9" width="5.2" height="17.9"/><rect class="cn" x="42" y="-11" width="5.2" height="11"/><rect class="cn" x="61" y="-22" width="5.2" height="22"/><rect class="cn" x="80" y="-23.4" width="5.2" height="23.4"/>
<rect class="aba" x="9.8" y="-34.4" width="5.2" height="34.4"/><rect class="aba" x="28.8" y="-20.6" width="5.2" height="20.6"/><rect class="aba" x="47.8" y="-19.3" width="5.2" height="19.3"/><rect class="aba" x="66.8" y="-23.4" width="5.2" height="23.4"/><rect class="aba" x="85.8" y="-30.3" width="5.2" height="30.3"/>
<path class="eb" d="M5.3,-32.1H7.9M6.6,-32.1V-31.1M5.3,-31.1H7.9M24.3,-18.4H26.9M25.6,-18.4V-17.4M24.3,-17.4H26.9M43.3,-11.5H45.9M44.6,-11.5V-10.5M43.3,-10.5H45.9M62.3,-22.8H64.9M63.6,-22.8V-21.2M62.3,-21.2H64.9M81.3,-24.2H83.9M82.6,-24.2V-22.6M81.3,-22.6H83.9M11.1,-35.9H13.7M12.4,-35.9V-32.9M11.1,-32.9H13.7M30.1,-23.6H32.7M31.4,-23.6V-17.6M30.1,-17.6H32.7M49.1,-20.1H51.7M50.4,-20.1V-18.5M49.1,-18.5H51.7M68.1,-25.4H70.7M69.4,-25.4V-21.4M68.1,-21.4H70.7M87.1,-32.3H89.7M88.4,-32.3V-28.3M87.1,-28.3H89.7"/>
<text class="lt" x="9.5" y="-39">A</text><text class="lt" x="28.5" y="-26.5">BC</text><text class="lt" x="47.5" y="-23">C</text><text class="lt" x="66.5" y="-28">BC</text><text class="lt" x="85.5" y="-35">B</text>
<text class="xl" transform="translate(12.5,7) rotate(-45)">Green</text><text class="xl" transform="translate(31.5,7) rotate(-45)">Red</text><text class="xl" transform="translate(50.5,7) rotate(-45)">Harvest</text><text class="xl" transform="translate(69.5,7) rotate(-45)">W2</text><text class="xl" transform="translate(88.5,7) rotate(-45)">W4</text>
<text class="yl" transform="translate(-17,-25) rotate(-90)">Oleanolic acid (µg cm<tspan dy="-2.5" font-size="5">−2</tspan><tspan dy="2.5">)</tspan></text>
<text class="st" x="10" y="-61">Stage: <tspan font-style="italic">p</tspan> &lt; 0.001</text>
<text class="st" x="10" y="-54">TRT: <tspan font-style="italic">p</tspan> &lt; 0.001 (ABA &gt; CN)</text>
<text class="st" x="10" y="-47">Stage × TRT: <tspan font-style="italic">p</tspan> &gt; 0.05</text>
</g>
</svg>
